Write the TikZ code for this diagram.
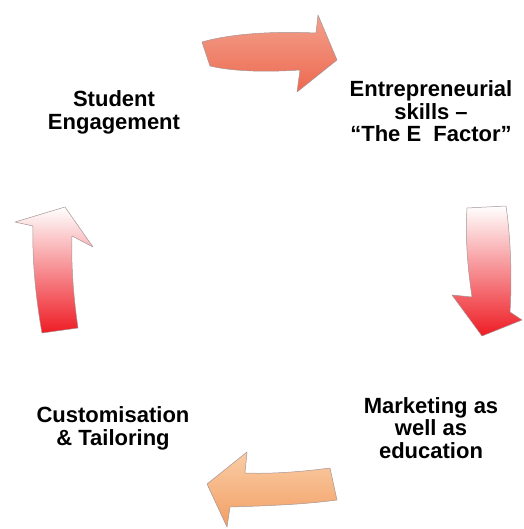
\documentclass[tikz,border=0pt]{standalone}
\usepackage{fontspec}
\setmainfont{Liberation Sans}
\definecolor{salT}{RGB}{242,160,140}
\definecolor{salM}{RGB}{250,210,198}
\definecolor{salB}{RGB}{238,105,80}
\definecolor{redB}{RGB}{238,28,36}
\definecolor{redM}{RGB}{244,185,190}
\definecolor{peaT}{RGB}{250,205,165}
\definecolor{peaM}{RGB}{248,185,135}
\definecolor{peaB}{RGB}{242,158,100}
\definecolor{edge}{RGB}{165,150,150}
\tikzset{
  lbl/.style={font=\fontsize{22}{22.5}\selectfont\bfseries, align=center, anchor=base, inner sep=0pt},
  arr/.style={draw=edge, line width=0.5pt, line join=round}
}
\begin{document}
\begin{tikzpicture}[x=1pt,y=-1pt]
\useasboundingbox (0,0) rectangle (523,529);
% top arrow
\shade[arr, top color=salT, middle color=salM, bottom color=salB]
  (202,42) .. controls (230,34) and (270,31) .. (316,33) -- (318,15) -- (337,60) -- (297,92) -- (300,70)
  .. controls (270,72) and (235,72) .. (210,66) -- cycle;
% right arrow
\shade[arr, top color=white, middle color=redM, bottom color=redB]
  (467,208) .. controls (465,240) and (468,270) .. (472,297) -- (452,295) -- (482,336) -- (522,320) -- (510,312)
  .. controls (512,280) and (511,240) .. (506,206) -- cycle;
% bottom arrow
\shade[arr, top color=peaT, middle color=peaM, bottom color=peaB]
  (337,500) -- (330,468) .. controls (300,472) and (270,474) .. (245,473) -- (247,452) -- (207,484) -- (227,527)
  -- (230,507) .. controls (260,506) and (300,505) .. (337,500) -- cycle;
% left arrow
\shade[arr, top color=white, middle color=redM, bottom color=redB]
  (42,333) .. controls (36,300) and (32,260) .. (33,226) -- (15,222) -- (65,207) -- (93,247) -- (72,236)
  .. controls (71,270) and (74,300) .. (78,328) -- cycle;
% labels (anchor = baseline of last line)
\node[lbl] (se) at (114,129.5) {Student\\Engagement};
\node[lbl] (ee) at (431,142) {Entrepreneurial\\skills –\\“The E~~Factor”};
\node[lbl] (me) at (431,458) {Marketing as\\well as\\education};
\node[lbl] (ct) at (113,445) {Customisation\\\& Tailoring};
\end{tikzpicture}
\end{document}
